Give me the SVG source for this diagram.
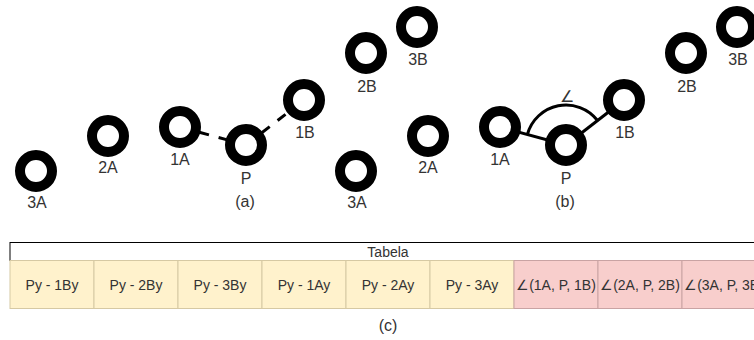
<svg xmlns="http://www.w3.org/2000/svg" width="754" height="340" viewBox="0 0 754 340">
<style>
.n{fill:#fff;stroke:#000;stroke-width:10}
.t{font-family:"Liberation Sans",Arial,sans-serif;font-size:14px;fill:#333;text-anchor:middle}
.l{font-family:"Liberation Sans",Arial,sans-serif;font-size:16px;fill:#333;text-anchor:middle}
.dash{stroke:#000;stroke-width:3;stroke-dasharray:10 10;fill:none}
.sol{stroke:#000;stroke-width:3;fill:none}
.y{fill:#fff2cc;stroke:#d6c9a3;stroke-width:1}
.p{fill:#f8cecc;stroke:#c9a3a3;stroke-width:1}
</style>
<rect width="754" height="340" fill="#fff"/>
<g id="connectors">
<line class="dash" x1="180" y1="127" x2="246" y2="145"/>
<line class="dash" x1="246" y1="145" x2="304" y2="100"/>
<line class="sol" x1="500" y1="127" x2="566" y2="145"/>
<line class="sol" x1="566" y1="145" x2="624" y2="100"/>
<path class="sol" d="M527.4,134.5 A40,40 0 0 1 597.6,120.5"/>
</g>
<g id="a-3A"><circle class="n" cx="36" cy="171" r="16"/><text class="l" x="37" y="208">3A</text></g>
<g id="a-2A"><circle class="n" cx="108" cy="136" r="16"/><text class="l" x="108" y="173">2A</text></g>
<g id="a-1A"><circle class="n" cx="180" cy="127" r="16"/><text class="l" x="180" y="165">1A</text></g>
<g id="a-P"><circle class="n" cx="246" cy="145" r="16"/><text class="l" x="246" y="184">P</text></g>
<g id="a-1B"><circle class="n" cx="304" cy="100" r="16"/><text class="l" x="305" y="138">1B</text></g>
<g id="a-2B"><circle class="n" cx="366" cy="53" r="16"/><text class="l" x="367" y="92">2B</text></g>
<g id="a-3B"><circle class="n" cx="417" cy="27" r="16"/><text class="l" x="418" y="65">3B</text></g>
<text class="l" x="245" y="207">(a)</text>
<g id="b-3A"><circle class="n" cx="356" cy="171" r="16"/><text class="l" x="357" y="208">3A</text></g>
<g id="b-2A"><circle class="n" cx="428" cy="136" r="16"/><text class="l" x="428" y="173">2A</text></g>
<g id="b-1A"><circle class="n" cx="500" cy="127" r="16"/><text class="l" x="500" y="165">1A</text></g>
<g id="b-P"><circle class="n" cx="566" cy="145" r="16"/><text class="l" x="566" y="184">P</text></g>
<g id="b-1B"><circle class="n" cx="624" cy="100" r="16"/><text class="l" x="625" y="138">1B</text></g>
<g id="b-2B"><circle class="n" cx="686" cy="53" r="16"/><text class="l" x="687" y="92">2B</text></g>
<g id="b-3B"><circle class="n" cx="737" cy="27" r="16"/><text class="l" x="738" y="65">3B</text></g>
<text class="l" x="567" y="102">∠</text>
<text class="l" x="565" y="207">(b)</text>
<g id="table">
<rect x="10" y="242.5" width="760" height="18" fill="#fff" stroke="#000" stroke-width="1"/>
<text class="t" x="388" y="256.5">Tabela</text>
<rect class="y" x="10" y="260.5" width="84" height="48"/>
<rect class="y" x="94" y="260.5" width="84" height="48"/>
<rect class="y" x="178" y="260.5" width="84" height="48"/>
<rect class="y" x="262" y="260.5" width="84" height="48"/>
<rect class="y" x="346" y="260.5" width="84" height="48"/>
<rect class="y" x="430" y="260.5" width="84" height="48"/>
<rect class="p" x="514" y="260.5" width="84" height="48"/>
<rect class="p" x="598" y="260.5" width="84" height="48"/>
<rect class="p" x="682" y="260.5" width="84" height="48"/>
<text class="t" x="52" y="289.5">Py - 1By</text>
<text class="t" x="136" y="289.5">Py - 2By</text>
<text class="t" x="220" y="289.5">Py - 3By</text>
<text class="t" x="304" y="289.5">Py - 1Ay</text>
<text class="t" x="388" y="289.5">Py - 2Ay</text>
<text class="t" x="472" y="289.5">Py - 3Ay</text>
<text class="t" x="556" y="289.5">∠(1A, P, 1B)</text>
<text class="t" x="640" y="289.5">∠(2A, P, 2B)</text>
<text class="t" x="724" y="289.5">∠(3A, P, 3B)</text>
</g>
<text class="l" x="388" y="331">(c)</text>
</svg>
